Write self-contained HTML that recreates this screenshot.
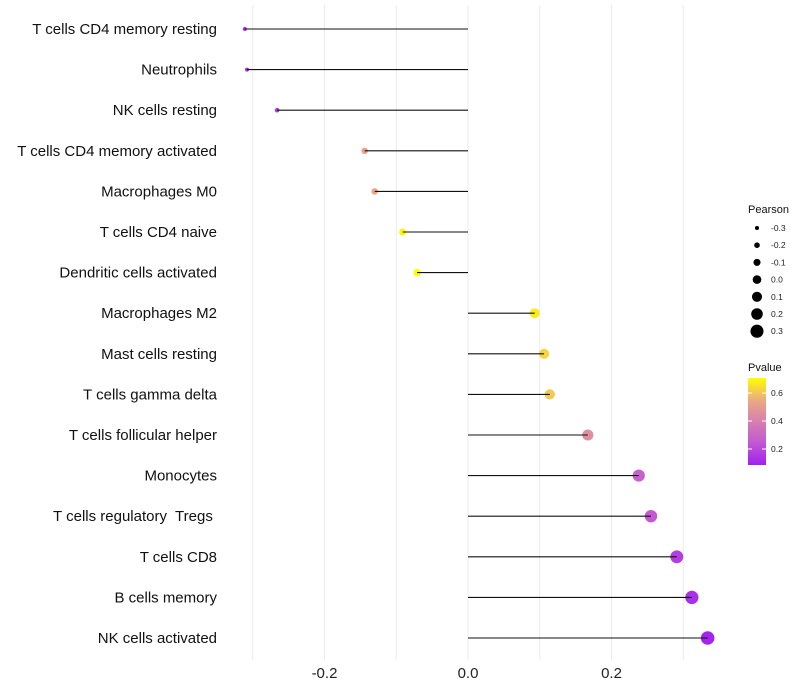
<!DOCTYPE html>
<html><head><meta charset="utf-8"><style>
body{margin:0;background:#fff;}
svg{display:block;font-family:"Liberation Sans",sans-serif;}
text{white-space:pre;}
</style></head><body>
<svg id="chart" width="800" height="700"></svg>
<script>
const categories=["T cells CD4 memory resting","Neutrophils","NK cells resting","T cells CD4 memory activated","Macrophages M0","T cells CD4 naive","Dendritic cells activated","Macrophages M2","Mast cells resting","T cells gamma delta","T cells follicular helper","Monocytes","T cells regulatory  Tregs ","T cells CD8","B cells memory","NK cells activated"];
const pearson=[-0.311,-0.308,-0.266,-0.144,-0.130,-0.091,-0.071,0.093,0.106,0.114,0.167,0.238,0.255,0.291,0.312,0.334];
const pvalue=[0.12,0.12,0.15,0.52,0.55,0.69,0.71,0.67,0.63,0.61,0.45,0.28,0.25,0.17,0.13,0.10];
const xTicks=[-0.2,0.0,0.2];
const xGrid=[-0.3,-0.2,-0.1,0,0.1,0.2,0.3];
const sizeLegend=[-0.3,-0.2,-0.1,0.0,0.1,0.2,0.3];
const pTicks=[0.2,0.4,0.6];

const NS="http://www.w3.org/2000/svg";
const svg=document.getElementById('chart');
function el(t,a,p){const e=document.createElementNS(NS,t);for(const k in a)e.setAttribute(k,a[k]);(p||svg).appendChild(e);return e;}
const x=v=>468+v*717.5;
const y=i=>29+i*40.6;
const r=v=>4.3+7.5*v;
function lerp(a,b,t){return a.map((c,i)=>Math.round(c+(b[i]-c)*t));}
const cStops=[[0.086,[160,32,240]],[0.25,[195,90,210]],[0.4,[215,128,175]],[0.55,[235,170,130]],[0.707,[255,255,0]]];
function color(p){
  p=Math.max(0.086,Math.min(0.707,p));
  for(let k=0;k<cStops.length-1;k++){
    const a=cStops[k],b=cStops[k+1];
    if(p<=b[0]){const c=lerp(a[1],b[1],(p-a[0])/(b[0]-a[0]));return `rgb(${c[0]},${c[1]},${c[2]})`;}
  }
  return 'rgb(255,255,0)';
}
xGrid.forEach(v=>{const g=el('line',{x1:x(v),x2:x(v),y1:5,y2:660,stroke:'#ebebeb','stroke-width':1});

});
xTicks.forEach(v=>{const t=el('text',{x:x(v),y:678,'text-anchor':'middle','font-size':15,fill:'#222'});t.textContent=v.toFixed(1);

});
categories.forEach((c,i)=>{
  const t=el('text',{x:217,y:y(i)+5,'text-anchor':'end','font-size':15,fill:'#111'});t.textContent=c;
  
  
  const pt=el('circle',{cx:x(pearson[i]),cy:y(i),r:r(pearson[i]),fill:color(pvalue[i])});
  
  
  const ln=el('line',{x1:x(0),x2:x(pearson[i]),y1:y(i),y2:y(i),stroke:'#111','stroke-width':1.1});
  
  
});
const lg=el('g',{});


let tt=el('text',{x:748,y:213,'font-size':11,fill:'#111'},lg);tt.textContent='Pearson';
sizeLegend.forEach((v,i)=>{
  const cy=228+i*17.2;
  const c=el('circle',{cx:757,cy:cy,r:r(v),fill:'#000'},lg);
  
  
  const t=el('text',{x:771,y:cy+3,'font-size':8.5,fill:'#222'},lg);t.textContent=v.toFixed(1);
});
tt=el('text',{x:748,y:371,'font-size':11,fill:'#111'},lg);tt.textContent='Pvalue';
const defs=el('defs',{});
const gr=el('linearGradient',{id:'pg',x1:0,y1:1,x2:0,y2:0},defs);
for(let k=0;k<=20;k++){el('stop',{offset:k/20,'stop-color':color(0.086+k/20*(0.707-0.086))},gr);}
const bar=el('rect',{x:748,y:378,width:18,height:87,fill:'url(#pg)'},lg);


const py=p=>449-(p-0.2)*140;
pTicks.forEach(p=>{
  el('line',{x1:748,x2:752,y1:py(p),y2:py(p),stroke:'#fff'},lg);
  el('line',{x1:762,x2:766,y1:py(p),y2:py(p),stroke:'#fff'},lg);
  const t=el('text',{x:771,y:py(p)+3,'font-size':8.5,fill:'#222'},lg);t.textContent=p.toFixed(1);
});
</script>
</body></html>
